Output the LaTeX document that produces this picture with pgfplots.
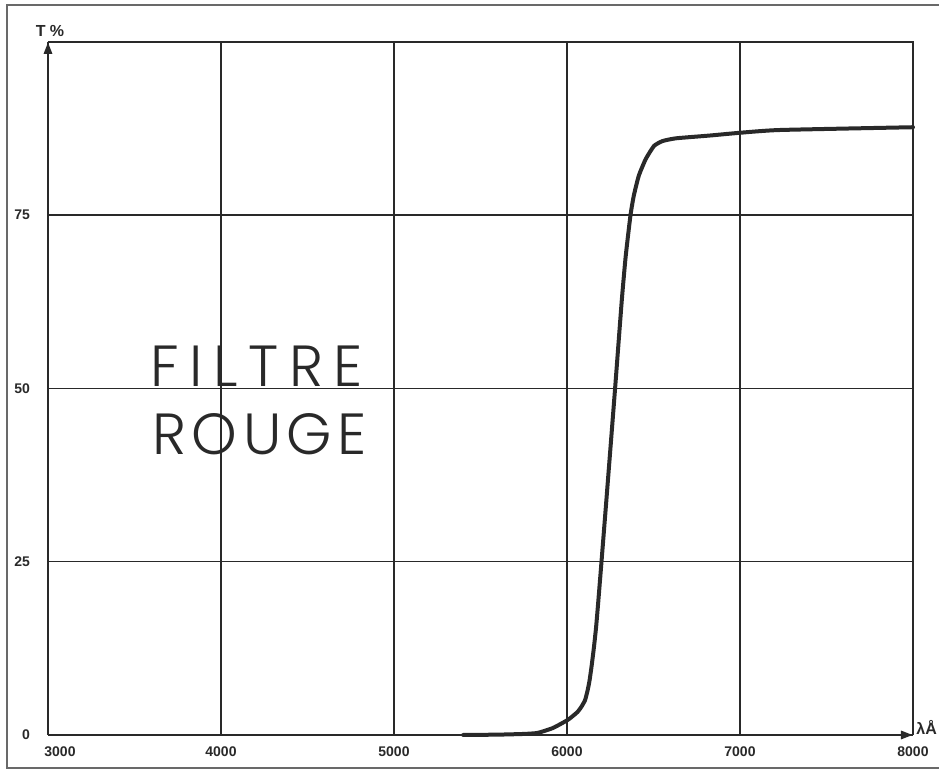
\documentclass[border=0pt]{standalone}
\usepackage{fontspec}
\setmainfont{Liberation Sans}
\usepackage{pgfplots}
\pgfplotsset{compat=1.18}
\usetikzlibrary{arrows.meta}
\IfFontExistsTF{Poppins Light}{\newfontfamily\lett{Poppins Light}}{\newfontfamily\lett{Liberation Sans}}
\definecolor{ink}{gray}{0.16}
\begin{document}
\begin{tikzpicture}[x=0.5pt,y=0.5pt]
\useasboundingbox (-48,-34) rectangle (891,735);
\draw[ink!70, line width=0.9pt] (891,730) -- (-41,730) -- (-41,-33) -- (891,-33);
\begin{axis}[
  at={(0,0)}, anchor=south west,
  scale only axis, width=432.5pt, height=346.5pt,
  xmin=3000, xmax=8000, ymin=0, ymax=100,
  xtick={3000,4000,5000,6000,7000,8000},
  xticklabels={{\rlap{\kern6pt 3000}\phantom{3000}},4000,5000,6000,7000,8000},
  ytick={0,25,50,75,100},
  yticklabels={0,25,50,75,{}},
  grid=major,
  major grid style={ink, line width=0.75pt},
  axis line style={draw=none},
  major tick length=0pt,
  tick label style={font=\bfseries\fontsize{7}{8}\selectfont, text=ink},
  yticklabel style={xshift=-5.5pt},
  xticklabel style={yshift=-2.2pt},
  clip=false,
]
\addplot[ink, line width=2pt, smooth, tension=0.3, line cap=round, line join=round] coordinates {
(5400,0) (5600,0.05) (5750,0.15) (5830,0.3) (5918,1.0) (6006,2.2) (6060,3.3) (6084,4.1)
(6104,5.0) (6118,6.3) (6130,7.8) (6142,9.9) (6155,12.5) (6168,15.5) (6181,19.3)
(6201,25.5) (6228,34) (6278,50) (6316,62.5) (6339,69) (6367,75)
(6386,77.8) (6415,80.7) (6455,83.1) (6503,85) (6552,85.7) (6630,86.1) (6825,86.5)
(7000,86.9) (7231,87.3) (8000,87.7)
};
\draw[ink, line width=1.1pt] (axis cs:3000,100) -- (axis cs:8000,100) -- (axis cs:8000,0);
\draw[ink, line width=1.4pt, -{Triangle[length=6pt,width=4pt]}] (axis cs:3000,0) -- (axis cs:8000,0);
\draw[ink, line width=1.4pt, -{Triangle[length=6pt,width=4pt]}] (axis cs:3000,0) -- (axis cs:3000,100);
\end{axis}
\node[font=\bfseries\fontsize{8}{9}\selectfont, text=ink] at (2,704) {T \%};
\node[font=\bfseries\fontsize{8}{9}\selectfont, text=ink, anchor=west, inner sep=0pt] at (868,8) {λÅ};
\node[anchor=base west, inner sep=0pt, text=ink] at (102,348) {\lett\fontsize{29}{29}\selectfont F\kern5.3pt I\kern5.3pt L\kern5.3pt T\kern5.3pt R\kern5.3pt E};
\node[anchor=base west, inner sep=0pt, text=ink] at (104,280) {\lett\fontsize{29}{29}\selectfont R\kern2.75pt O\kern2.75pt U\kern2.75pt G\kern2.75pt E};
\end{tikzpicture}
\end{document}
